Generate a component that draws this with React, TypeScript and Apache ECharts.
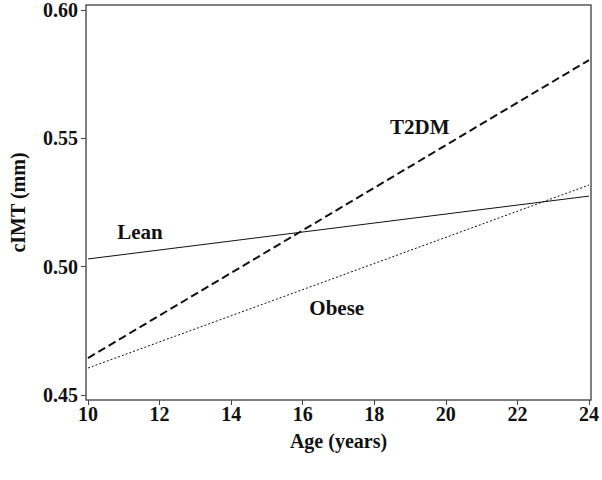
import React, { useEffect, useRef } from "react";
import * as echarts from "echarts";

const ages = [10, 24];
const leanValues = [0.503, 0.5275];
const t2dmValues = [0.4644, 0.5805];
const obeseValues = [0.4605, 0.5318];
const xTicks = [10, 12, 14, 16, 18, 20, 22, 24];
const yTicks = [0.45, 0.5, 0.55, 0.6];

const leanLabel = { text: "Lean", age: 11.45, value: 0.5135 };
const t2dmLabel = { text: "T2DM", age: 19.27, value: 0.5544 };
const obeseLabel = { text: "Obese", age: 16.95, value: 0.4839 };

const FONT = "'Liberation Serif', 'DejaVu Serif', serif";

function pairs(vals: number[]) {
  return ages.map((a, i) => [a, vals[i]]);
}

function mark(l: { text: string; age: number; value: number }) {
  return {
    silent: true,
    symbol: "circle",
    symbolSize: 0,
    data: [{ coord: [l.age, l.value] }],
    label: {
      show: true,
      position: "inside",
      formatter: l.text,
      color: "#111",
      fontFamily: FONT,
      fontWeight: "bold",
      fontSize: 21,
    },
  };
}

export default function App() {
  const ref = useRef<HTMLDivElement>(null);
  useEffect(() => {
    if (!ref.current) return;
    const chart = echarts.init(ref.current, null, { renderer: "svg" });
    chart.setOption({
      animation: false,
      backgroundColor: "#fff",
      grid: { left: 88, right: 13, top: 10, bottom: 85 },
      xAxis: {
        type: "value",
        min: xTicks[0],
        max: xTicks[xTicks.length - 1],
        interval: 2,
        offset: 5,
        splitLine: { show: false },
        axisLine: { show: false },
        axisTick: { show: true, length: 5, lineStyle: { color: "#444" } },
        axisLabel: {
          margin: 4,
          color: "#111",
          fontFamily: FONT,
          fontWeight: "bold",
          fontSize: 20,
        },
        name: "Age (years)",
        nameLocation: "middle",
        nameGap: 31,
        nameTextStyle: { color: "#111", fontFamily: FONT, fontWeight: "bold", fontSize: 20 },
      },
      yAxis: {
        type: "value",
        min: yTicks[0],
        max: yTicks[yTicks.length - 1],
        interval: 0.05,
        offset: 2,
        splitLine: { show: false },
        axisLine: { show: false },
        axisTick: { show: true, length: 5, lineStyle: { color: "#444" } },
        axisLabel: {
          margin: 8,
          color: "#111",
          fontFamily: FONT,
          fontWeight: "bold",
          fontSize: 20,
          formatter: (v: number) => v.toFixed(2),
        },
        name: "cIMT (mm)",
        nameLocation: "middle",
        nameGap: 58,
        nameTextStyle: { color: "#111", fontFamily: FONT, fontWeight: "bold", fontSize: 20 },
      },
      graphic: [
        {
          type: "rect",
          shape: { x: 86, y: 5, width: 505, height: 395 },
          style: { fill: "none", stroke: "#555", lineWidth: 1.5 },
          silent: true,
          z: 10,
        },
      ],
      series: [
        {
          type: "line",
          name: "Lean",
          data: pairs(leanValues),
          symbol: "none",
          lineStyle: { color: "#111", width: 1, type: "solid" },
          markPoint: mark(leanLabel),
        },
        {
          type: "line",
          name: "T2DM",
          data: pairs(t2dmValues),
          symbol: "none",
          lineStyle: { color: "#111", width: 2, type: [8, 4] },
          markPoint: mark(t2dmLabel),
        },
        {
          type: "line",
          name: "Obese",
          data: pairs(obeseValues),
          symbol: "none",
          lineStyle: { color: "#111", width: 1, type: [2, 2] },
          markPoint: mark(obeseLabel),
        },
      ],
    });
    return () => chart.dispose();
  }, []);
  return (
    <div
      ref={ref}
      style={{ position: "fixed", left: 0, top: 0, width: 602, height: 480, background: "#fff" }}
    />
  );
}
